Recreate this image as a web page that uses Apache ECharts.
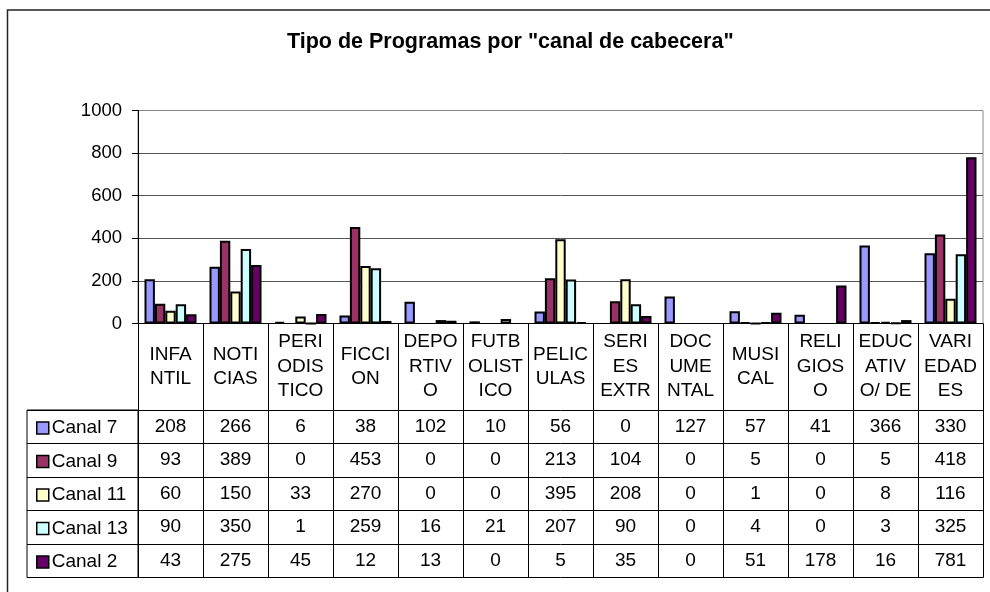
<!DOCTYPE html>
<html>
<head>
<meta charset="utf-8">
<title>Tipo de Programas por "canal de cabecera"</title>
<script src="https://cdn.jsdelivr.net/npm/echarts@6/dist/echarts.min.js"></script>
<style>
    html, body { margin: 0; padding: 0; background: #fff; }
    #annular { width: 990px; height: 592px; }
</style>
</head>
<body>
<div id="annular"></div>
<script>
var categories = ['INFA\nNTIL', 'NOTI\nCIAS', 'PERI\nODIS\nTICO', 'FICCI\nON', 'DEPO\nRTIV\nO', 'FUTB\nOLIST\nICO',
    'PELIC\nULAS', 'SERI\nES\nEXTR', 'DOC\nUME\nNTAL', 'MUSI\nCAL', 'RELI\nGIOS\nO', 'EDUC\nATIV\nO/ DE', 'VARI\nEDAD\nES'];
var canal7  = [208, 266, 6, 38, 102, 10, 56, 0, 127, 57, 41, 366, 330];
var canal9  = [93, 389, 0, 453, 0, 0, 213, 104, 0, 5, 0, 5, 418];
var canal11 = [60, 150, 33, 270, 0, 0, 395, 208, 0, 1, 0, 8, 116];
var canal13 = [90, 350, 1, 259, 16, 21, 207, 90, 0, 4, 0, 3, 325];
var canal2  = [43, 275, 45, 12, 13, 0, 5, 35, 0, 51, 178, 16, 781];
var seriesNames = ['Canal 7', 'Canal 9', 'Canal 11', 'Canal 13', 'Canal 2'];
var yTicks = [0, 200, 400, 600, 800, 1000];

getCharts();

/* grafico + tabla de datos */
function getCharts() {
    var myChart = echarts.init(document.getElementById('annular'));
    var colorList = ['#9999FF', '#993366', '#FFFFCC', '#CCFFFF', '#660066'];
    var valueList = [canal7, canal9, canal11, canal13, canal2];
    var font = 'Liberation Sans, Arial, sans-serif';
    var headH = 86.5;   // alto de la fila de categorias
    var rowH = 33.5;    // alto de cada fila de datos

    var series = [];
    for (var i = 0; i < valueList.length; i++) {
        series.push({
            name: seriesNames[i],
            type: 'bar',
            xAxisIndex: 0,
            yAxisIndex: 0,
            barGap: '0%',
            barCategoryGap: '20%',
            itemStyle: {
                color: colorList[i],
                borderColor: '#000',
                borderWidth: 2
            },
            emphasis: { disabled: true },
            // las barras en cero no se dibujan (sin borde)
            data: valueList[i].map(function (v) {
                return v === 0 ? { value: 0, itemStyle: { borderWidth: 0 } } : v;
            })
        });
    }

    // eje de categorias: las marcas largas forman las columnas de la tabla
    var xAxes = [{
        type: 'category',
        gridIndex: 0,
        position: 'bottom',
        data: categories,
        axisLine: { lineStyle: { color: '#000', width: 1 } },
        axisTick: { show: true, interval: 0, length: headH + rowH * 5, lineStyle: { color: '#000', width: 1 } },
        axisLabel: {
            interval: 0,
            margin: headH / 2,
            verticalAlign: 'middle',
            color: '#000',
            fontFamily: font,
            fontSize: 19,
            lineHeight: 24.5
        }
    }];
    // una fila de la tabla por serie
    for (var r = 0; r < valueList.length; r++) {
        xAxes.push({
            type: 'category',
            gridIndex: 0,
            position: 'bottom',
            offset: headH + rowH * r,
            data: categories,
            axisLine: { lineStyle: { color: '#000', width: 1 } },
            axisTick: { show: false },
            axisLabel: {
                interval: 0,
                margin: rowH / 2,
                verticalAlign: 'middle',
                color: '#000',
                fontFamily: font,
                fontSize: 19,
                formatter: (function (vals) {
                    return function (v, idx) { return String(vals[idx]); };
                })(valueList[r])
            }
        });
    }
    // linea inferior de la tabla
    xAxes.push({
        type: 'category',
        gridIndex: 0,
        position: 'bottom',
        offset: headH + rowH * 5,
        data: categories,
        axisLine: { lineStyle: { color: '#000', width: 1 } },
        axisTick: { show: false },
        axisLabel: { show: false }
    });
    // columna de la leyenda
    xAxes.push({ type: 'value', gridIndex: 1, show: false });

    var option = {
        animation: false,
        backgroundColor: '#fff',
        title: {
            text: 'Tipo de Programas por "canal de cabecera"',
            left: 282,
            top: 26,
            textStyle: { fontFamily: font, fontSize: 21.5, fontWeight: 'bold', color: '#000' }
        },
        legend: {
            orient: 'vertical',
            left: 31,
            top: 413,
            itemWidth: 12,
            itemHeight: 12,
            itemGap: 13.5,
            icon: 'rect',
            selectedMode: false,
            itemStyle: { borderColor: '#000', borderWidth: 1.5 },
            textStyle: { fontFamily: font, fontSize: 19, lineHeight: 20, color: '#000', padding: [0, 0, 0, -2] },
            data: seriesNames
        },
        grid: [
            { left: 138, top: 110.5, width: 845, height: 213, show: true, borderColor: '#888', borderWidth: 1 },
            { left: 27, top: 323.5 + headH, width: 111, height: rowH * 5, show: true, borderColor: '#000', borderWidth: 1 }
        ],
        xAxis: xAxes,
        yAxis: [
            {
                type: 'value',
                gridIndex: 0,
                min: yTicks[0],
                max: yTicks[yTicks.length - 1],
                interval: yTicks[1] - yTicks[0],
                axisLine: { show: true, lineStyle: { color: '#000', width: 1 } },
                axisTick: { show: true, length: 6, lineStyle: { color: '#000' } },
                axisLabel: {
                    margin: 16, color: '#000', fontFamily: font, fontSize: 18.5,
                    formatter: function (v) { return String(v); }
                },
                splitLine: { lineStyle: { color: ['#555', '#555', '#555', '#555', '#555', '#888'], width: 1 } }
            },
            {
                type: 'category',
                gridIndex: 1,
                inverse: true,
                data: seriesNames,
                axisLine: { show: false },
                axisTick: { show: false },
                axisLabel: { show: false },
                splitLine: { show: true, lineStyle: { color: '#000', width: 1 } }
            }
        ],
        graphic: [{
            type: 'rect',
            shape: { x: 7.5, y: 10, width: 1000, height: 600 },
            style: { fill: null, stroke: '#222', lineWidth: 1.5 },
            silent: true
        }],
        series: series
    };
    myChart.setOption(option);
}
</script>
</body>
</html>
